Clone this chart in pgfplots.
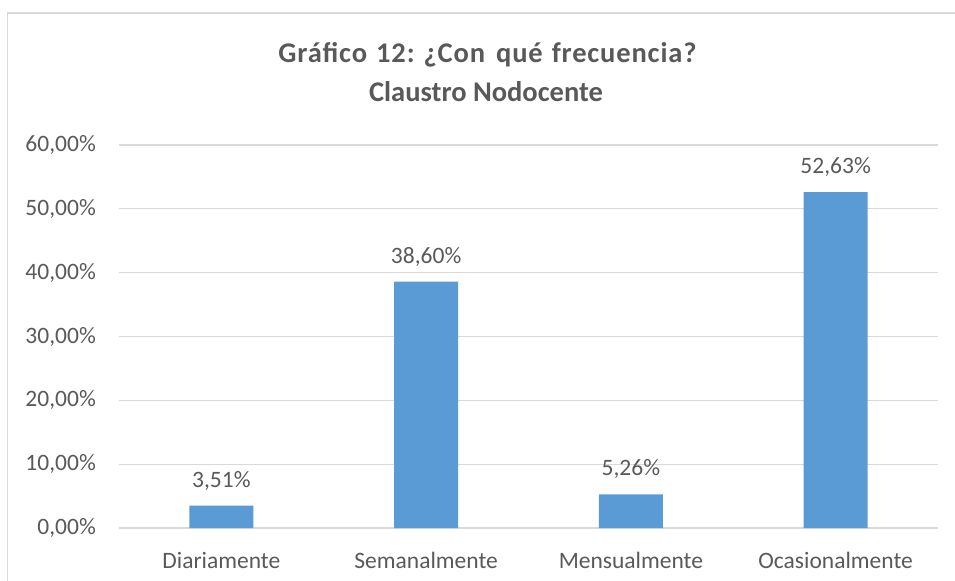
\documentclass[border=0pt]{standalone}
\usepackage{pgfplots}
\pgfplotsset{compat=1.18}
\usepackage{fontspec}
\setmainfont{Carlito}
\frenchspacing
\definecolor{barblue}{HTML}{5B9BD5}
\definecolor{gridgray}{HTML}{D9D9D9}
\definecolor{txtgray}{HTML}{595959}
\begin{document}
\begin{tikzpicture}
\path[use as bounding box] (0,0) rectangle (955bp,581bp);
\draw[gridgray, line width=1.3bp] (7.5bp,0) -- (7.5bp,568bp) -- (955bp,568bp);
% title
\node[anchor=base, text=txtgray, font=\fontsize{28.5bp}{34bp}\selectfont\bfseries\addfontfeature{LetterSpace=3}] at (487.5bp,518bp)
  {Gráfico\hspace{9bp}12:\hspace{9bp}¿Con\hspace{11bp}qué\hspace{9bp}frecuencia?};
\node[anchor=base, text=txtgray, font=\fontsize{28.5bp}{34bp}\selectfont\bfseries] at (486bp,479bp) {Claustro Nodocente};
\begin{axis}[
    at={(119bp,53bp)}, anchor=south west,
    scale only axis,
    width=819bp, height=383bp,
    ybar, bar width=64bp,
    xmin=-0.5, xmax=3.5,
    ymin=0, ymax=60,
    ytick={0,10,...,60},
    xtick=data,
    xticklabels={Diariamente,Semanalmente,Mensualmente,Ocasionalmente},
    /pgf/number format/assume math mode=true,
    yticklabel={\pgfmathprintnumber[fixed,fixed zerofill,precision=2,use comma]{\tick}\%},
    yticklabel style={anchor=east, inner sep=0pt, xshift=-23bp},
    xticklabel style={anchor=north, inner sep=0pt, yshift=-24bp},
    ticklabel style={text=txtgray, font=\fontsize{23.5bp}{28bp}\selectfont},
    major tick length=0pt,
    ymajorgrids, grid style={gridgray, line width=1.3bp},
    axis x line*=bottom, axis y line*=left,
    x axis line style={gridgray, line width=1.3bp, -},
    y axis line style={draw=none},
    nodes near coords={\pgfmathprintnumber[fixed,fixed zerofill,precision=2,use comma]{\pgfplotspointmeta}\%},
    nodes near coords align={anchor=base},
    every node near coord/.append style={anchor=base, inner sep=0pt, yshift=18.5bp, text=txtgray, font=\fontsize{23.5bp}{28bp}\selectfont},
    clip=false
]
\addplot[fill=barblue, draw=none] coordinates {(0,3.51) (1,38.60) (2,5.26) (3,52.63)};
\end{axis}
\end{tikzpicture}
\end{document}
